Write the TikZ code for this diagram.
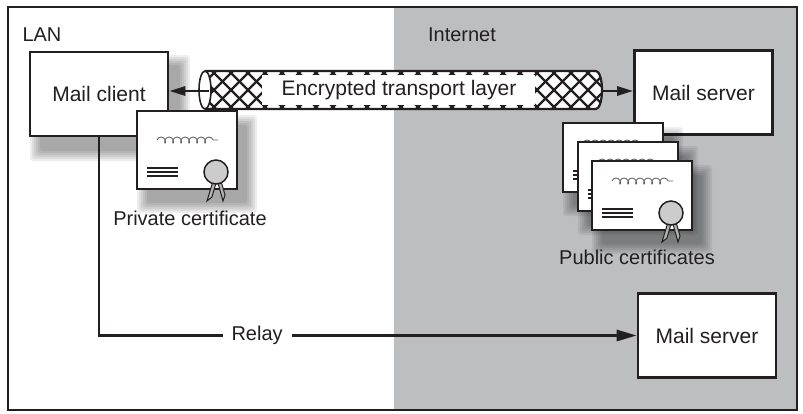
\documentclass[tikz,border=0pt]{standalone}
\usepackage{fontspec}
\setmainfont{Liberation Sans}
\usetikzlibrary{arrows.meta,decorations.pathmorphing}
\definecolor{netgray}{RGB}{189,190,192}
\definecolor{ink}{RGB}{35,31,32}

\begin{document}
\begin{tikzpicture}[x=1pt, y=-1pt,
  box/.style={draw=ink, line width=2.6pt, fill=white, minimum width=138pt, minimum height=84pt,
    font=\fontsize{21}{25}\selectfont, text=ink},
  arrow/.style={draw=ink, line width=2.8pt, -{Triangle[length=16pt,width=9pt]}},
  hatch/.style={ink, line width=2.2pt},
  tag/.style={font=\fontsize{20}{24}\selectfont, text=ink},
  haze/.style={black, opacity=0.065, rounded corners=3pt},
  pics/cert/.style={code={
    \foreach \e in {10,8,...,0}
      \fill[haze] ({10-\e},{14+\e}) rectangle ({110+\e},{14-#1-\e});
    \draw[draw=ink, line width=2.4pt, fill=white] (0,0) rectangle (100,-#1);
    \draw[gray!80!black, line width=0.9pt, decorate,
      decoration={coil, aspect=0.7, segment length=8pt, amplitude=3pt}] (20,-49) -- (81,-49);
    \foreach \y in {-21,-17,-13} \draw[ink, line width=1.3pt] (10,\y) -- (41,\y);
    \filldraw[draw=ink, fill=gray!60, line width=1pt] (76,-8) -- (70,12) -- (75,8) -- (79,-6) -- cycle;
    \filldraw[draw=ink, fill=gray!60, line width=1pt] (81,-6) -- (86,12) -- (88,6) -- (84,-8) -- cycle;
    \draw[draw=ink, fill=gray!40, line width=1.5pt] (79,-17) circle[radius=12];
  }}]

  % Regions
  \useasboundingbox (0,0) rectangle (803,413);
  \fill[netgray] (394,7) rectangle (797,410);
  \draw[ink, line width=1.6pt] (8,7) rectangle (797,410);
  \node[tag, anchor=west] (lan) at (19,35) {LAN};
  \node[tag] (internet) at (462,35) {Internet};

  % Nodes
  \foreach \e in {10,8,...,0}
    \fill[haze] ({40-\e},{65-\e}) rectangle ({180+\e},{151+\e});
  \node[box] (client) at (99,94) {Mail client};
  \node[box] (server) at (703.5,92.5) {Mail server};
  \node[box] (relayserver) at (707,335.5) {Mail server};

  % Certificates
  \pic at (137,189) {cert=78};
  \node[tag] (private) at (190,218) {Private certificate};
  \pic at (563,192) {cert=69};
  \pic at (578,211) {cert=69};
  \pic at (592,230) {cert=69};
  \node[tag] (public) at (637,257) {Public certificates};

  % Tunnel
  \begin{scope}
    \fill[white] (205,71) -- (596,71) arc[start angle=-90, end angle=90, x radius=6, y radius=19]
      -- (205,109) -- cycle;
    \clip (205,71) -- (596,71) arc[start angle=-90, end angle=90, x radius=6, y radius=19]
      -- (205,109) -- cycle;
    \foreach \i in {-60,-43,...,620} {
      \draw[hatch] (\i,71) -- ++(38,38);
      \draw[hatch] (\i,109) -- ++(38,-38);
    }
  \end{scope}
  \fill[white] (262,75) rectangle (535,105);
  \draw[ink, line width=2.2pt] (205,71) -- (596,71)
    arc[start angle=-90, end angle=90, x radius=6, y radius=19] -- (205,109);
  \draw[ink, line width=1.6pt, fill=white] (205,90) ellipse[x radius=6, y radius=19];
  \node[tag, font=\fontsize{21}{25}\selectfont] (tunnel) at (399,90) {Encrypted transport layer};
  \coordinate (tubeL) at (209,91);
  \coordinate (tubeR) at (602,91);

  % Arrows
  \draw[arrow] (tubeL) -- (tubeL -| client.east);
  \draw[arrow] (tubeR) -- (tubeR -| server.west);
  \draw[arrow, -{Triangle[length=20pt,width=11pt]}] (client.south) |-
    node[pos=0.647, tag, fill=white, inner xsep=9pt] (relay) {Relay} (relayserver.west);
\end{tikzpicture}
\end{document}
